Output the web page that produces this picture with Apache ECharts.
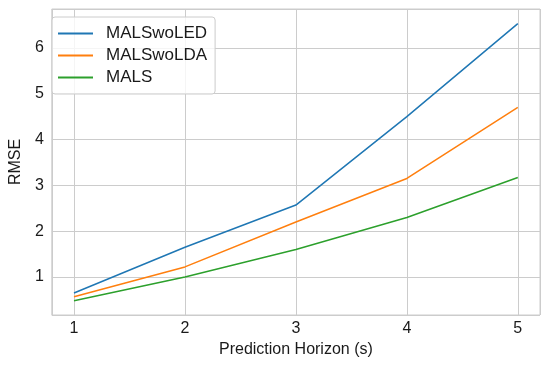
<!DOCTYPE html>
<html>
<head>
<meta charset="utf-8">
<script src="https://cdn.jsdelivr.net/npm/echarts@6/dist/echarts.min.js"></script>
<style>html,body{margin:0;padding:0;background:#fff}#c{width:550px;height:367px}</style>
</head>
<body>
<div id="c"></div>
<script>
var horizons = [1, 2, 3, 4, 5];
var seriesNames = ['MALSwoLED', 'MALSwoLDA', 'MALS'];
var malsWoLED = [0.65, 1.65, 2.57, 4.5, 6.53];
var malsWoLDA = [0.57, 1.22, 2.2, 3.15, 4.7];
var mals = [0.48, 1.0, 1.6, 2.3, 3.17];
var colors = ['#1f77b4', '#ff7f0e', '#2ca02c'];

function pairs(vals) { return horizons.map(function (h, i) { return [h, vals[i]]; }); }
var font = 'Liberation Sans, Arial, sans-serif';
var txt = '#1a1a1a';
var chart = echarts.init(document.getElementById('c'), null, { renderer: 'canvas' });
chart.setOption({
  animation: false,
  grid: { left: 44, right: 10, top: 9, bottom: 52, show: true, borderColor: '#cccccc', borderWidth: 1 },
  legend: {
    left: 52, top: 17, orient: 'vertical',
    data: seriesNames,
    icon: 'rect', itemWidth: 35, itemHeight: 2, itemGap: 5,
    padding: [8, 8, 8, 6],
    backgroundColor: 'rgba(255,255,255,0.8)', borderColor: '#cccccc', borderWidth: 1, borderRadius: 3,
    textStyle: { fontFamily: font, fontSize: 17, color: txt, padding: [0, 0, 0, 8] }
  },
  xAxis: {
    type: 'value', min: 0.8, max: 5.2,
    name: 'Prediction Horizon (s)', nameLocation: 'middle', nameGap: 26,
    nameTextStyle: { fontFamily: font, fontSize: 16, color: txt },
    axisLine: { show: false }, axisTick: { show: false },
    axisLabel: { fontFamily: font, fontSize: 16, color: txt, margin: 6, showMinLabel: false, showMaxLabel: false },
    splitLine: { show: true, lineStyle: { color: '#cccccc', width: 1 } }
  },
  yAxis: {
    type: 'value', min: 0.17, max: 6.85,
    name: 'RMSE', nameLocation: 'middle', nameGap: 22,
    nameTextStyle: { fontFamily: font, fontSize: 16, color: txt },
    axisLine: { show: false }, axisTick: { show: false },
    axisLabel: { fontFamily: font, fontSize: 16, color: txt, margin: 8, showMinLabel: false, showMaxLabel: false },
    splitLine: { show: true, lineStyle: { color: '#cccccc', width: 1 } }
  },
  series: [
    { name: seriesNames[0], type: 'line', data: pairs(malsWoLED), showSymbol: false, symbol: 'none', color: colors[0], lineStyle: { width: 1.5 } },
    { name: seriesNames[1], type: 'line', data: pairs(malsWoLDA), showSymbol: false, symbol: 'none', color: colors[1], lineStyle: { width: 1.5 } },
    { name: seriesNames[2], type: 'line', data: pairs(mals), showSymbol: false, symbol: 'none', color: colors[2], lineStyle: { width: 1.5 } }
  ]
});
</script>
</body>
</html>
